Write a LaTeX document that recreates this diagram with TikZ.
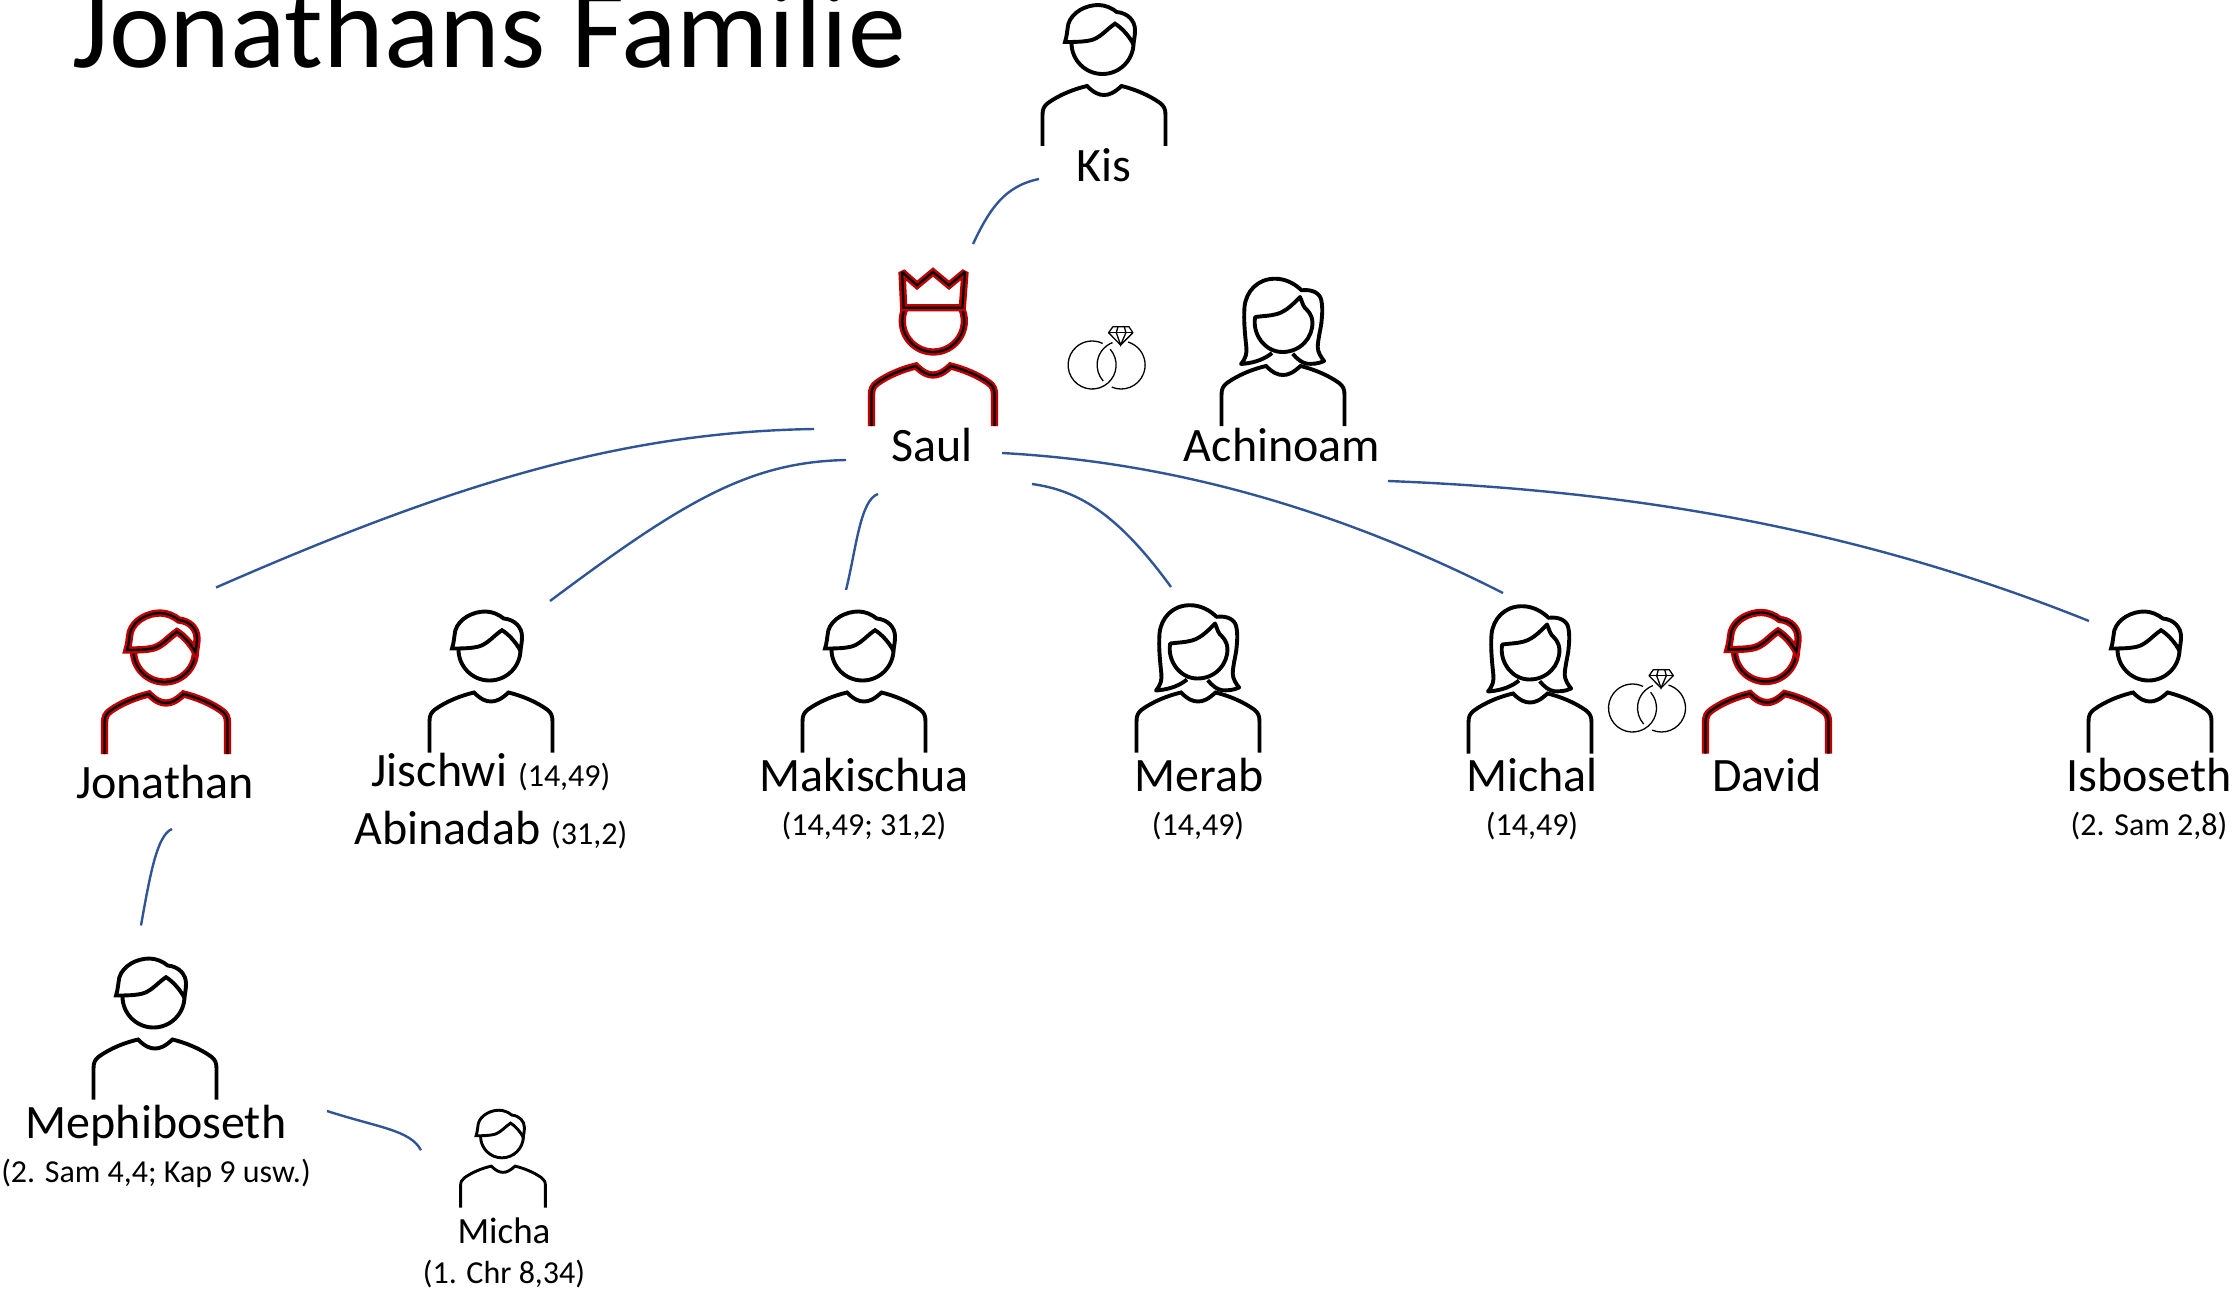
\documentclass[tikz,border=0pt]{standalone}
\usepackage{fontspec}
\setmainfont{Carlito}
\definecolor{kingred}{HTML}{C00000}
\definecolor{lineblue}{HTML}{2F5597}
\tikzset{
  blackline/.style={draw=black, line width=3.9pt},
  smallline/.style={draw=black, line width=2.9pt},
  redline/.style={draw=kingred, double=black, line width=2.5pt, double distance=2.3pt},
  ringline/.style={draw=black, line width=1.3pt},
  familyline/.style={draw=lineblue, line width=2.4pt},
  iconbox/.style={anchor=south, inner sep=0pt, outer sep=0pt},
  titlelb/.style={anchor=base west, inner sep=0pt, font=\fontsize{115.5}{130}\selectfont},
  namelb/.style={anchor=base, inner sep=0pt, font=\fontsize{48}{54}\selectfont},
  smallname/.style={anchor=base, inner sep=0pt, font=\fontsize{37}{42}\selectfont},
  reflb/.style={anchor=base, inner sep=0pt, font=\reffont},
}
\def\reffont{\fontsize{32}{38}\selectfont}
\def\bodypath{(-61.5,0) -- (-61.5,-31) .. controls (-61.5,-37) and (-60,-40) .. (-56,-43)
  .. controls (-45,-51) and (-30,-57) .. (-17,-60) .. controls (-10,-53) and (-5,-51) .. (0,-51)
  .. controls (5,-51) and (10,-53) .. (17.5,-60) .. controls (30,-57) and (45,-51) .. (56,-43)
  .. controls (60,-40) and (61.5,-37) .. (61.5,-31) -- (61.5,0)}
\def\manicon(#1,#2,#3,#4,#5){
  \node[iconbox, minimum width=#4*123pt, minimum height=#4*141pt] (#1) at (#2,#3) {};
  \begin{scope}[shift={(#2,#3)}, scale=#4]
  \draw[#5] \bodypath;
  \draw[#5] (-1.5,-103) circle[radius=31];
  \draw[#5, fill=white] (-39,-104) .. controls (-37,-110) and (-37,-115) .. (-35.7,-122)
    .. controls (-32,-134) and (-18,-141) .. (-5.7,-141) .. controls (1,-141) and (8,-138) .. (12.7,-134)
    .. controls (24,-133) and (31,-125) .. (31,-116) .. controls (31,-110) and (30,-106) .. (29.3,-102)
    .. controls (25,-110) and (18,-118) .. (11,-122.3) .. controls (3,-117) and (-2,-110) .. (-10.7,-106.5)
    .. controls (-18,-104) and (-30,-104) .. (-39,-104) -- cycle;
  \end{scope}
}
\def\womanicon(#1,#2,#3){
  \node[iconbox, minimum width=123pt, minimum height=141pt] (#1) at (#2,#3) {};
  \begin{scope}[shift={(#2,#3)}]
  \draw[blackline] \bodypath;
  \draw[blackline, line join=round] (-11,-73) .. controls (-17,-68) and (-27,-63) .. (-42,-62)
    .. controls (-37,-68) and (-36,-73) .. (-36.7,-79) .. controls (-38,-92) and (-39.5,-105) .. (-38.5,-119)
    .. controls (-37,-135) and (-25,-147.3) .. (-8.1,-147.3) .. controls (3,-147.3) and (12,-142) .. (18.6,-135.7)
    .. controls (29,-137) and (37,-133) .. (38.3,-125.7) .. controls (40,-117) and (39,-110) .. (38.3,-102.3)
    .. controls (37,-94) and (35,-87) .. (34.7,-79) .. controls (35,-73) and (38,-69) .. (41.1,-65)
    .. controls (35,-62) and (29,-62) .. (24,-62.3) .. controls (19,-63) and (14,-67) .. (9.7,-72.3);
  \draw[blackline, line join=round] (-27.8,-109) .. controls (-31,-93) and (-19,-74) .. (-0.5,-74)
    .. controls (17,-74) and (30,-88) .. (29.4,-104) .. controls (29,-112) and (24,-116) .. (22,-118)
    .. controls (19,-122) and (19,-125) .. (17,-129) .. controls (11,-123) and (4,-115) .. (-6,-112)
    .. controls (-13,-110) and (-21,-110) .. (-27.8,-109) -- cycle;
  \end{scope}
}
\def\kingicon(#1,#2,#3){
  \node[iconbox, minimum width=123pt, minimum height=141pt] (#1) at (#2,#3) {};
  \begin{scope}[shift={(#2,#3)}]
  \draw[redline] \bodypath;
  \draw[redline] (0.3,-105) circle[radius=31];
  \draw[redline, fill=white, miter limit=2] (-31,-154) -- (-16,-140.7) -- (0,-154) -- (16,-140.7) -- (32,-154)
    -- (29.3,-118.3) -- (-29.3,-118.3) -- cycle;
  \end{scope}
}
\def\ringicon(#1,#2){
  \begin{scope}[shift={(#1,#2)}, y=1pt]
  \draw[ringline] (-14.5,0) ++(41:24) arc[start angle=41, end angle=-296, radius=24];
  \draw[ringline] (14.5,0) ++(111:24) arc[start angle=111, end angle=222, radius=24];
  \draw[ringline] (14.5,0) ++(247:24) arc[start angle=247, end angle=433, radius=24];
  \draw[ringline, line join=round] (6.3,38.3) -- (22.3,38.3) -- (26.3,32.3) -- (14,20) -- (2,32.3) -- cycle;
  \draw[ringline] (2,32.3) -- (26.3,32.3);
  \draw[ringline] (11.3,38.3) -- (9.7,32.3) -- (14,20) -- (19.3,32.3) -- (17.7,38.3);
  \end{scope}
}
\begin{document}
\begin{tikzpicture}[x=1pt, y=-1pt]
\useasboundingbox (0,0) rectangle (2234,1292);
\node[titlelb] (title_lb) at (72,68) {Jonathans Familie};

\manicon(kis_ic,1104,146,1,blackline)
\kingicon(saul_ic,933,426)
\womanicon(achinoam_ic,1283,426)
\manicon(jonathan_ic,166,754,1,redline)
\manicon(jischwi_ic,491,752.5,1,blackline)
\manicon(makischua_ic,864,752.5,1,blackline)
\womanicon(merab_ic,1198,752.5)
\womanicon(michal_ic,1530,753.5)
\manicon(david_ic,1767,753.5,1,redline)
\manicon(isboseth_ic,2150,752.5,1,blackline)
\manicon(mephi_ic,155,1099.5,1,blackline)
\manicon(micha_ic,503,1207.5,0.69,smallline)
\ringicon(1106.6,365)
\ringicon(1647,708)

\node[namelb] (kis_lb) at (1104,182) {Kis};
\node[namelb] (saul_lb) at (932,461.5) {Saul};
\node[namelb] (achinoam_lb) at (1282,461.5) {Achinoam};
\node[namelb] (jonathan_lb) at (165,798.5) {Jonathan};
\node[namelb] (jischwi_lb) at (491,786) {Jischwi {\reffont (14,49)}};
\node[namelb] (abinadab_lb) at (491,844) {Abinadab {\reffont (31,2)}};
\node[namelb] (makischua_lb) at (864,791.5) {Makischua};
\node[reflb] (makischua_rf) at (864,835.5) {(14,49; 31,2)};
\node[namelb] (merab_lb) at (1199,791.5) {Merab};
\node[reflb] (merab_rf) at (1198,835.5) {(14,49)};
\node[namelb] (michal_lb) at (1532,791.5) {Michal};
\node[reflb] (michal_rf) at (1532,835.5) {(14,49)};
\node[namelb] (david_lb) at (1767,791.5) {David};
\node[namelb] (isboseth_lb) at (2149,791.5) {Isboseth};
\node[reflb] (isboseth_rf) at (2149,835.5) {(2. Sam 2,8)};
\node[namelb] (mephi_lb) at (156,1138.5) {Mephiboseth};
\node[reflb] (mephi_rf) at (156,1182.5) {(2. Sam 4,4; Kap 9 usw.)};
\node[smallname] (micha_lb) at (504,1243) {Micha};
\node[reflb] (micha_rf) at (504,1283.5) {(1. Chr 8,34)};

\draw[familyline] ([xshift=-65pt,yshift=3pt]kis_lb.base) .. controls (1005,186) and (990,208) .. ([xshift=40pt,yshift=41pt]saul_ic.north);
\draw[familyline] ([xshift=-118pt,yshift=32.5pt]saul_lb.base) .. controls (620,432) and (450,485) .. ([xshift=50pt,yshift=25.5pt]jonathan_ic.north);
\draw[familyline] ([xshift=-86pt,yshift=1.5pt]saul_lb.base) .. controls (750,462) and (685,500) .. ([xshift=59pt,yshift=10.5pt]jischwi_ic.north);
\draw[familyline] ([xshift=-54pt,yshift=-32.5pt]saul_lb.base) .. controls (860,500) and (856,550) .. ([xshift=-18pt,yshift=21.5pt]makischua_ic.north);
\draw[familyline] ([xshift=100pt,yshift=-22.5pt]saul_lb.base) .. controls (1075,490) and (1115,510) .. ([xshift=-27pt,yshift=24.5pt]merab_ic.north);
\draw[familyline] ([xshift=70pt,yshift=8.5pt]saul_lb.base) .. controls (1130,460) and (1300,490) .. ([xshift=-27pt,yshift=19.5pt]michal_ic.north);
\draw[familyline] ([xshift=106pt,yshift=-19.5pt]achinoam_lb.base) .. controls (1620,490) and (1850,525) .. ([xshift=-61pt,yshift=-9.5pt]isboseth_ic.north);
\draw[familyline] ([xshift=7pt,yshift=-30.5pt]jonathan_lb.base) .. controls (157,835) and (150,875) .. ([xshift=-14pt,yshift=33pt]mephi_ic.north);
\draw[familyline] ([xshift=171pt,yshift=27.5pt]mephi_lb.base) .. controls (380,1128) and (410,1130) .. ([xshift=-82pt,yshift=-40pt]micha_ic.north);
\end{tikzpicture}
\end{document}
